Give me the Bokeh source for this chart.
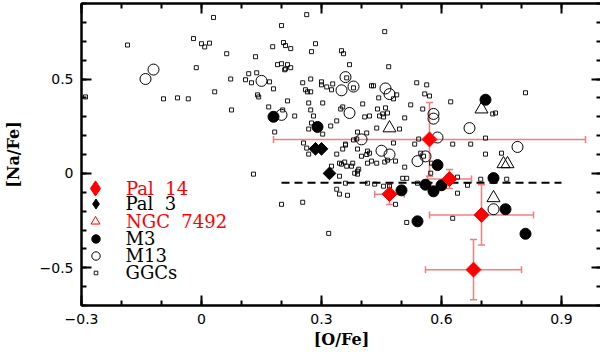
from bokeh.plotting import figure
from bokeh.models import (ColumnDataSource, FixedTicker, LinearAxis, Legend, LegendItem,
                          Whisker, TeeHead, Range1d)
from bokeh.embed import file_html
from bokeh.resources import INLINE
import math

# ---------------- data ----------------
ggc_ofe = [-0.185, -0.290, -0.020, 0.000, 0.008, 0.020, -0.013, -0.095, -0.060, -0.033,
           0.030, 0.063, 0.033, 0.073, 0.135, 0.178, 0.200, 0.263, 0.205, 0.210,
           0.223, 0.285, 0.275, 0.190, 0.200, 0.215, 0.223, 0.208, 0.210, 0.118,
           0.138, 0.110, 0.125, 0.170, 0.180, 0.140, 0.143, 0.215, 0.168, 0.075,
           0.253, 0.273, 0.260, 0.265, 0.273, 0.300, 0.300, 0.313, 0.328, 0.325,
           0.268, 0.303, 0.203, 0.273, 0.458, 0.350, 0.355, 0.370, 0.468, 0.363,
           0.380, 0.425, 0.430, 0.443, 0.488, 0.480, 0.538, 0.563, 0.558, 0.570,
           0.523, 0.623, 0.403, 0.348, 0.353, 0.440, 0.460, 0.553, 0.453, 0.465,
           0.455, 0.445, 0.323, 0.338, 0.408, 0.420, 0.390, 0.413, 0.438, 0.508,
           0.495, 0.533, 0.543, 0.480, 0.380, 0.388, 0.360, 0.338, 0.353, 0.390,
           0.415, 0.420, 0.413, 0.425, 0.400, 0.438, 0.458, 0.465, 0.485, 0.508,
           0.513, 0.503, 0.548, 0.555, 0.575, 0.628, 0.345, 0.350, 0.358, 0.363,
           0.375, 0.378, 0.390, 0.383, 0.390, 0.338, 0.345, 0.365, 0.200, 0.253,
           0.318, 0.360, 0.415, 0.433, 0.455, 0.470, 0.513, 0.540, 0.573, 0.640,
           0.628, 0.485, 0.665, 0.698, 0.763, 0.810, 0.728, 0.735, 0.710, 0.673,
           0.710, 0.750, 0.640, 0.233, 0.183, 0.280, 0.268, 0.275, 0.303, 0.255,
           0.263, 0.268, 0.325, 0.130, 0.360, 0.345, 0.393, 0.415]
ggc_nafe = [0.680, 0.405, 0.714, 0.687, 0.670, 0.690, 0.560, 0.395, 0.400, 0.395,
            0.826, 0.634, 0.432, 0.500, 0.618, 0.671, 0.783, 0.841, 0.693, 0.677,
            0.661, 0.687, 0.645, 0.576, 0.581, 0.576, 0.560, 0.549, 0.554, 0.528,
            0.533, 0.496, 0.480, 0.485, 0.448, 0.416, 0.405, 0.384, 0.352, 0.336,
            0.480, 0.500, 0.443, 0.432, 0.432, 0.485, 0.469, 0.458, 0.474, 0.443,
            0.373, 0.373, 0.336, 0.336, 0.751, 0.650, 0.634, 0.576, 0.565, 0.506,
            0.453, 0.464, 0.464, 0.400, 0.416, 0.395, 0.480, 0.469, 0.421, 0.410,
            0.363, 0.379, 0.368, 0.341, 0.352, 0.341, 0.347, 0.341, 0.315, 0.320,
            0.299, 0.304, 0.251, 0.278, 0.299, 0.304, 0.219, 0.214, 0.240, 0.294,
            0.235, 0.155, 0.182, 0.161, 0.177, 0.182, 0.155, 0.102, 0.129, 0.129,
            0.118, 0.107, 0.100, 0.065, 0.091, 0.054, 0.060, 0.070, 0.065, 0.033,
            -0.026, -0.026, 0.107, 0.091, 0.054, 0.155, 0.054, 0.049, 0.060, 0.038,
            0.038, 0.054, 0.012, 0.001, -0.004, -0.084, -0.110, -0.116, -0.164, -0.153,
            -0.318, -0.052, -0.052, -0.057, -0.068, -0.068, -0.260, -0.052, 0.001, -0.105,
            -0.238, -0.164, -0.063, -0.031, -0.031, 0.427, 0.315, 0.320, 0.187, 0.155,
            0.102, 0.107, -0.020, 0.304, 0.219, 0.304, 0.235, 0.267, 0.208, 0.161,
            0.134, 0.102, 0.038, -0.004, 0.150, -0.015, 0.022, 0.054]

m13_ofe = [-0.14, -0.12, 0.15, 0.20, 0.36, 0.35, 0.38, 0.46, 0.47, 0.37, 0.40,
           0.45, 0.47, 0.54, 0.56, 0.58, 0.58, 0.59, 0.67, 0.79, 0.73]
m13_nafe = [0.50, 0.55, 0.49, 0.31, 0.51, 0.44, 0.46, 0.45, 0.42, 0.32, 0.18,
            0.12, 0.10, 0.065, 0.09, 0.315, 0.29, 0.19, 0.24, 0.14, -0.19]

m3_ofe = [0.18, 0.29, 0.71, 0.59, 0.50, 0.56, 0.58, 0.60, 0.73, 0.76, 0.54, 0.81]
m3_nafe = [0.30, 0.246, 0.39, 0.044, -0.09, -0.06, -0.095, -0.063, -0.025, -0.19, -0.254, -0.32]

ngc7492_ofe = [0.47, 0.70, 0.755, 0.765, 0.73]
ngc7492_nafe = [0.24, 0.34, 0.05, 0.05, -0.13]

pal3_ofe = [0.285, 0.300, 0.32]
pal3_nafe = [0.13, 0.13, 0.0]

pal14_ofe = [0.57, 0.62, 0.47, 0.70, 0.68]
pal14_nafe = [0.18, -0.03, -0.11, -0.22, -0.51]
pal14_ofe_err = [0.39, 0.055, 0.037, 0.13, 0.12]
pal14_nafe_err = [0.195, 0.05, 0.055, 0.16, 0.16]

mean_ofe = [0.20, 0.90]
mean_nafe = [-0.05, -0.05]

x_ticks = [-0.3, 0, 0.3, 0.6, 0.9]
x_tick_labels = ["\u22120.3", "0", "0.3", "0.6", "0.9"]
y_ticks = [-0.5, 0, 0.5]
y_tick_labels = ["\u22120.5", "0", "0.5"]

legend_labels = ["Pal\u00a0\u00a014", "Pal\u00a0\u00a03", "NGC\u00a0\u00a07492", "M3", "M13", "GGCs"]

# ---------------- figure ----------------
RED = "#ff0000"
ERR = "#f08080"
SERIF = "DejaVu Serif"
SANS = "DejaVu Sans"

p = figure(frame_width=520, frame_height=302, x_range=Range1d(-0.3, 1.0),
           y_range=Range1d(-0.7, 0.9),
           output_backend="svg", toolbar_location=None,
           min_border_left=77, min_border_right=2, min_border_top=3, min_border_bottom=10)
p.grid.visible = False
p.outline_line_color = "black"
p.outline_line_width = 2
p.background_fill_color = "white"
p.border_fill_color = "white"

x_minor = [round(-0.3 + 0.1 * i, 1) for i in range(14)]
y_minor = [round(-0.7 + 0.1 * i, 1) for i in range(17)]


def style_axis(ax, ticks, minor, labels, show_labels):
    ax.ticker = FixedTicker(ticks=ticks, minor_ticks=minor)
    ax.axis_line_width = 2
    ax.axis_line_color = "black"
    ax.major_tick_in = 10
    ax.major_tick_out = 0
    ax.minor_tick_in = 5
    ax.minor_tick_out = 0
    ax.major_tick_line_width = 2
    ax.minor_tick_line_width = 2
    ax.major_tick_line_color = "black"
    ax.minor_tick_line_color = "black"
    if show_labels:
        ax.major_label_overrides = dict(zip(ticks, labels))
        ax.major_label_text_font = SANS
        ax.major_label_text_font_size = "14px"
        ax.major_label_text_color = "black"
    else:
        ax.major_label_overrides = {t: "" for t in ticks}
        ax.major_label_standoff = 0
        ax.axis_label_standoff = 0


style_axis(p.xaxis[0], x_ticks, x_minor, x_tick_labels, True)
style_axis(p.yaxis[0], y_ticks, y_minor, y_tick_labels, True)
p.xaxis[0].major_label_standoff = 8
p.yaxis[0].major_label_standoff = 8

for ax_lbl in (p.xaxis[0], p.yaxis[0]):
    ax_lbl.axis_label_text_font = SERIF
    ax_lbl.axis_label_text_font_style = "bold"
    ax_lbl.axis_label_text_font_size = "16px"
    ax_lbl.axis_label_text_color = "black"
p.xaxis[0].axis_label = "[O/Fe]"
p.yaxis[0].axis_label = "[Na/Fe]"
p.xaxis[0].axis_label_standoff = 3
p.yaxis[0].axis_label_standoff = 14

top_ax = LinearAxis()
style_axis(top_ax, x_ticks, x_minor, x_tick_labels, False)
p.add_layout(top_ax, "above")
right_ax = LinearAxis()
style_axis(right_ax, y_ticks, y_minor, y_tick_labels, False)
p.add_layout(right_ax, "right")

# ---------------- glyphs ----------------
r_ggc = p.scatter(ggc_ofe, ggc_nafe, marker="square", size=4, fill_color=None,
                  line_color="black", line_width=0.9)
r_m13 = p.scatter(m13_ofe, m13_nafe, marker="circle", size=11, fill_color=None,
                  line_color="black", line_width=1)
r_m3 = p.scatter(m3_ofe, m3_nafe, marker="circle", size=11, fill_color="black",
                 line_color="black")
r_tri = p.scatter(ngc7492_ofe, ngc7492_nafe, marker="triangle", size=13, fill_color=None,
                  line_color="black", line_width=1)
p.line(mean_ofe, mean_nafe, line_color="black", line_width=2, line_dash="8 5")
r_pal3 = p.scatter(pal3_ofe, pal3_nafe, marker="square", size=9, angle=math.pi / 4,
                   fill_color="black", line_color="black")

err_src = ColumnDataSource(dict(
    x=pal14_ofe, y=pal14_nafe,
    xl=[a - b for a, b in zip(pal14_ofe, pal14_ofe_err)],
    xu=[a + b for a, b in zip(pal14_ofe, pal14_ofe_err)],
    yl=[a - b for a, b in zip(pal14_nafe, pal14_nafe_err)],
    yu=[a + b for a, b in zip(pal14_nafe, pal14_nafe_err)],
))


def tee():
    return TeeHead(size=7, line_color=ERR, line_width=1.5)


p.add_layout(Whisker(source=err_src, base="y", lower="xl", upper="xu", dimension="width",
                     line_color=ERR, line_width=1.5, upper_head=tee(), lower_head=tee()))
p.add_layout(Whisker(source=err_src, base="x", lower="yl", upper="yu", dimension="height",
                     line_color=ERR, line_width=1.5, upper_head=tee(), lower_head=tee()))
r_pal14 = p.scatter("x", "y", source=err_src, marker="square", size=10.5, angle=math.pi / 4,
                    fill_color=RED, line_color=RED)

# legend-only renderers (legend glyphs are drawn unrotated, so use diamond markers there)
nan = float("nan")
leg_pal14 = p.scatter([nan], [nan], marker="diamond", fill_color=RED, line_color=RED)
leg_pal3 = p.scatter([nan], [nan], marker="diamond", fill_color="black", line_color="black")
leg_tri = p.scatter([nan], [nan], marker="triangle", fill_color=None, line_color=RED,
                    line_width=1)

# ---------------- legend (one box per entry, for per-entry text colour) ----------------
legend_renderers = [leg_pal14, leg_pal3, leg_tri, r_m3, r_m13, r_ggc]
legend_colors = [RED, "black", RED, "black", "black", "black"]
legend_marker_px = [15, 10, 9, 8.5, 8.5, 3.5]
legend_centers = [117, 102, 84, 67, 50, 33]
LABEL_H = 21

for lab, ren, col, ms, cy in zip(legend_labels, legend_renderers, legend_colors,
                                 legend_marker_px, legend_centers):
    g = int(round(ms / 0.4))
    h = max(g, LABEL_H)
    lg = Legend(items=[LegendItem(label=lab, renderers=[ren])],
                location=(14 - g / 2, cy - h / 2), padding=0, margin=0, spacing=0,
                glyph_width=g, glyph_height=g, label_height=LABEL_H,
                label_standoff=int(round(31 - g / 2)),
                label_text_font=SERIF, label_text_font_size="18px",
                label_text_color=col, border_line_color=None,
                background_fill_alpha=0)
    p.add_layout(lg)

open("out.html", "w").write(file_html(p, INLINE))
